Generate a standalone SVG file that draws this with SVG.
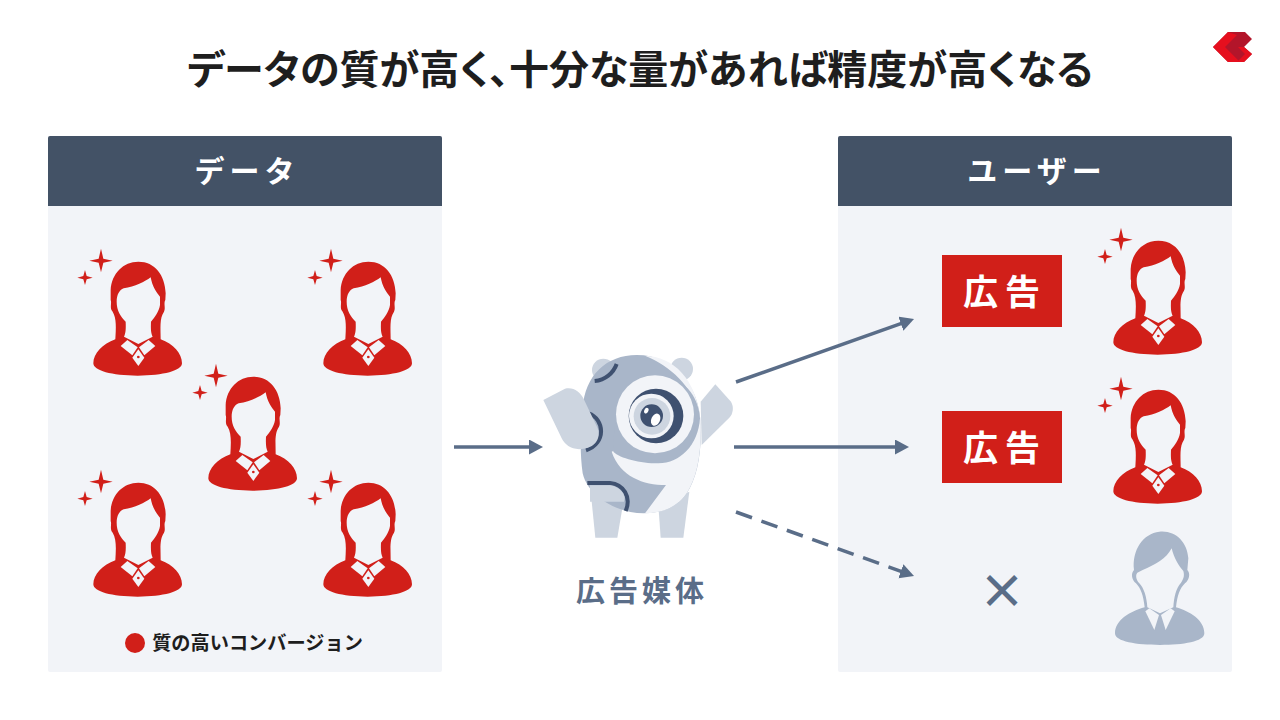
<svg xmlns="http://www.w3.org/2000/svg" width="1280" height="720" viewBox="0 0 1280 720">
<style>
text{font-family:"Noto Sans CJK JP","Noto Sans",sans-serif;font-weight:700;text-anchor:middle}
.hd{fill:#435266}.pn{fill:#f2f4f8}.red{fill:#d11f19}.bg{fill:#f2f4f8}
.cn{stroke:#5a6d88;stroke-width:3.5;fill:none}
.lg{fill:#cdd5e0}.md{fill:#a9b6c9}.dk{fill:#3f5170}
.arc{fill:none;stroke:#3f5170;stroke-width:12}
</style>
<defs>
<marker id="ah" markerUnits="userSpaceOnUse" markerWidth="16" markerHeight="16" refX="6" refY="7.5" orient="auto"><path d="M0 0L14 7.5L0 15Z" fill="#5a6d88"/></marker>
<g id="woman" transform="scale(.33333)">
<path class="red" d="M93 26L100 56L128 62L100 68L93 97L86 68L58 62L86 56Z"/>
<path class="red" d="M45 90L50 108L68 113L50 118L45 135L40 118L22 113L40 108Z"/>
<path class="red" d="M205 65C255 65 285 105 287 160L286 180C280 190 288 205 282 215C268 235 272 265 272 298C310 312 336 340 336 370C336 392 280 407 203 407C125 407 70 392 70 370C70 340 98 312 136 298C138 265 140 235 128 215C118 205 126 190 122 180L122 150C125 100 160 65 205 65Z"/>
<path class="bg" d="M140 185C140 165 148 150 161 145C195 140 225 125 242 112C247 140 260 158 270 170L270 195C267 215 254 232 243 245C242 268 243 280 248 290L205 312L162 290C167 280 168 268 167 245C152 230 140 212 140 185Z"/>
<path class="bg" d="M152 318L172 300L203 322L187 346Z"/>
<path class="bg" d="M256 318L236 300L207 322L223 346Z"/>
<path class="bg" d="M205 328L223 353L205 378L187 353Z"/>
<circle class="red" cx="205" cy="351" r="4"/>
</g>
<g id="ad-box">
<rect x="942" width="120" height="72" class="red"/>
<text x="1005" y="50" font-size="35" letter-spacing="7" fill="#fff">広告</text>
</g>
</defs>
<rect width="1280" height="720" fill="#fff"/>
<text id="title" x="640" y="84" font-size="40" fill="#1e1e1e" style="font-feature-settings:'palt'">データの質が高く、十分な量があれば精度が高くなる</text>
<g id="logo">
<path d="M1213 47L1228 32H1245L1252 39L1244 47L1252 54L1244 62H1228Z" fill="#b3152a"/>
<path d="M1213 47L1228 62H1240L1225 47L1237 35L1228 32Z" fill="#e60f1e"/>
<path d="M1244 47L1252 54L1244 62H1237L1245 54L1238 47Z" fill="#e60f1e"/>
</g>
<g id="panel-data">
<rect x="48" y="136" width="394" height="536" rx="2" class="pn"/>
<path d="M48 206V138a2 2 0 0 1 2-2H440a2 2 0 0 1 2 2V206Z" class="hd"/>
<text x="247" y="182" font-size="30" letter-spacing="5" fill="#fff">データ</text>
</g>
<g id="panel-user">
<rect x="838" y="136" width="394" height="536" rx="2" class="pn"/>
<path d="M838 206V138a2 2 0 0 1 2-2H1230a2 2 0 0 1 2 2V206Z" class="hd"/>
<text x="1037" y="182" font-size="30" letter-spacing="5" fill="#fff">ユーザー</text>
</g>
<g id="data-women">
<use href="#woman" x="70" y="240"/>
<use href="#woman" x="300" y="240"/>
<use href="#woman" x="185" y="355"/>
<use href="#woman" x="70" y="461"/>
<use href="#woman" x="300" y="461"/>
</g>
<g id="legend">
<circle cx="135" cy="643" r="10" class="red"/>
<text x="257.500" y="650" font-size="19.200" fill="#1e1e1e">質の高いコンバージョン</text>
</g>
<g id="connectors">
<path class="cn" d="M454 447H535" marker-end="url(#ah)"/>
<path class="cn" d="M736 382L906.500 321.700" marker-end="url(#ah)"/>
<path class="cn" d="M734 447H901" marker-end="url(#ah)"/>
<path class="cn" d="M736 512L906.500 573.300" stroke-dasharray="17 10" marker-end="url(#ah)"/>
</g>
<g id="robot" transform="translate(530 345) scale(.33333)">
<path class="lg" d="M180 420L282 460L262 578H196Z"/>
<path class="lg" d="M385 480L478 440L460 578H392Z"/>
<circle class="lg" cx="220" cy="75" r="34"/>
<circle class="lg" cx="455" cy="72" r="34"/>
<path class="md" d="M320 30C230 30 165 90 158 190C150 260 150 330 158 385C175 460 270 505 340 505C390 505 440 490 470 445C500 400 515 330 512 240C510 120 430 30 320 30Z"/>
<path class="bg" d="M345 32C430 35 500 100 512 230C515 330 500 400 470 445C440 490 390 505 345 505L408 420C340 420 270 395 245 320L505 200C490 130 420 60 345 32Z"/>
<path class="md" d="M250 320C270 340 330 355 385 355C450 355 505 300 510 220C505 150 460 95 385 95C300 95 250 160 250 320Z"/>
<circle class="bg" cx="375" cy="208" r="117"/>
<circle class="dk" cx="378" cy="213" r="82"/>
<circle class="bg" cx="364" cy="213" r="67"/>
<circle class="lg" cx="366" cy="214" r="55"/>
<circle class="dk" cx="365" cy="212" r="34"/>
<ellipse cx="377" cy="224" rx="13" ry="19" transform="rotate(25 377 224)" fill="#fff"/>
<ellipse cx="349" cy="197" rx="6" ry="9" transform="rotate(25 349 197)" fill="#fff"/>
<path class="arc" d="M194 108C225 105 250 85 260 57"/>
<path class="arc" d="M176 205C224 222 230 295 168 316"/>
<path class="lg" d="M40 165L105 131C130 125 150 140 160 160L203 250C215 285 190 310 155 312C125 315 105 300 95 280Z"/>
<path class="lg" d="M512 170L556 118L603 170C612 185 610 205 598 218L515 300Z"/>
<path class="arc" stroke-width="14" d="M172 414H240C280 418 305 455 287 498"/>
<path class="lg" d="M180 421H240C270 425 290 450 282 470L180 470Z"/>
</g>
<g id="robot-label"><text x="642" y="602" font-size="29" letter-spacing="4" fill="#5a6d88">広告媒体</text></g>
<g id="ad-1" transform="translate(0 255)"><use href="#ad-box"/></g>
<g id="ad-2" transform="translate(0 411)"><use href="#ad-box"/></g>
<g id="user-women">
<use href="#woman" x="1090" y="219"/>
<use href="#woman" x="1090" y="368"/>
</g>
<g id="no-ad"><text x="1002" y="608" font-size="47" fill="#5a6d88">×</text></g>
<g id="user-man" transform="translate(1100 520) scale(.33333)">
<path class="md" d="M178 35C225 30 262 65 265 115L262 150C272 160 268 180 255 190C240 205 232 225 228 262C270 275 313 300 313 340C313 365 250 375 180 375C110 375 45 365 45 340C45 300 90 275 134 262C130 225 122 205 108 190C95 180 92 160 102 150C95 90 130 40 178 35Z"/>
<path class="bg" d="M128 150C165 135 200 115 215 85C222 115 238 140 250 153C255 170 248 180 243 188C228 205 222 230 220 262L180 280L142 262C140 230 132 205 118 190C108 178 106 165 112 158Z"/>
<path class="bg" d="M136 274L148 265L177 285L163 330Z"/>
<path class="bg" d="M224 274L212 265L183 285L197 330Z"/>
</g>
</svg>
